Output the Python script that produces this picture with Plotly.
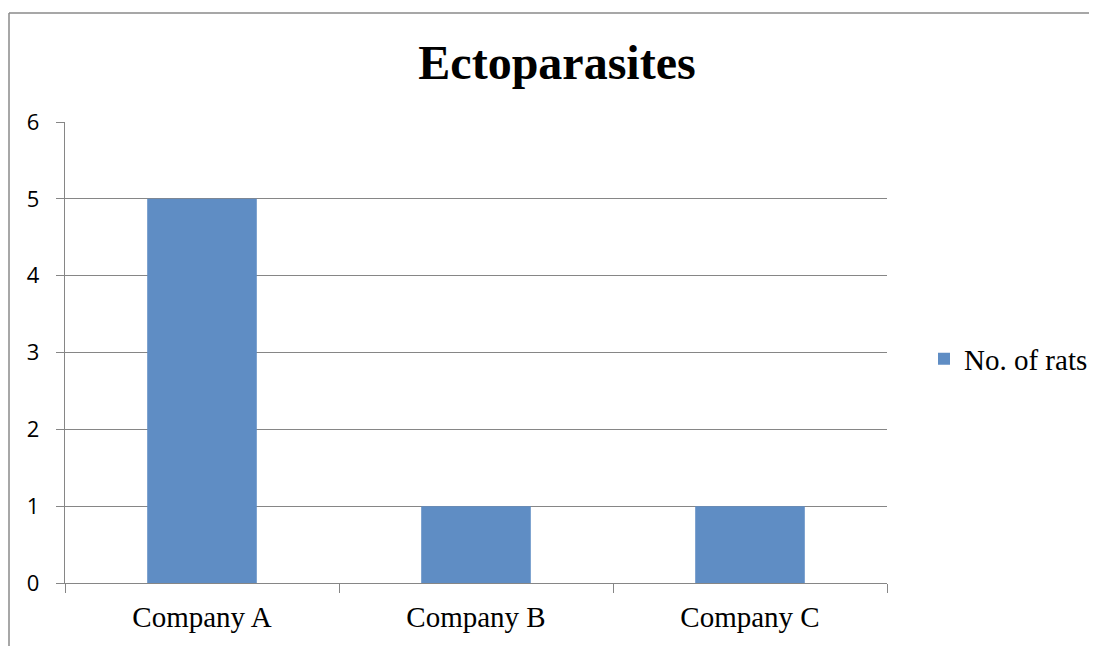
import plotly.graph_objects as go

categories = ["Company A", "Company B", "Company C"]
rats = [5, 1, 1]
series_name = "No. of rats"
title_text = "Ectoparasites"

OFF = 8  # page body margin offset
W, H = 1097 - OFF, 646 - OFF
L, T = 65 - OFF, 122 - OFF
R, B = W - (887 - OFF), H - (583 - OFF)
pw, ph = W - L - R, H - T - B

fig = go.Figure()
fig.add_trace(go.Bar(
    x=categories, y=rats, name=series_name,
    marker=dict(color="#5F8DC4", line=dict(width=0)),
    width=0.4, showlegend=True,
))

fig.update_layout(
    width=W, height=H,
    margin=dict(l=L, r=R, t=T, b=B, autoexpand=False),
    paper_bgcolor="white", plot_bgcolor="white",
    title=dict(text="<b>" + title_text + "</b>", x=(557 - OFF) / W, xref="container", xanchor="center",
               y=1 - (62 - OFF) / H, yref="container", yanchor="middle",
               font=dict(family="Liberation Serif", size=48, color="#000000")),
    showlegend=True,
    legend=dict(x=(924 - 65) / pw, xanchor="left", y=(583 - 359) / ph, yanchor="middle",
                font=dict(family="Liberation Serif", size=29, color="#000000"),
                itemwidth=30, bgcolor="rgba(0,0,0,0)"),
)
fig.update_xaxes(
    type="category", tickson="boundaries", ticks="outside", ticklen=9, tickcolor="#868686",
    tickwidth=1.3, showline=True, linecolor="#868686", linewidth=1.3, showgrid=False,
    tickfont=dict(family="Liberation Serif", size=29, color="#000000"),
    ticklabelstandoff=8,
)
fig.update_yaxes(
    range=[0, 6], dtick=1, ticks="outside", ticklen=8, tickcolor="#868686", tickwidth=1.3,
    showline=True, linecolor="#868686", linewidth=1.3,
    showgrid=True, gridcolor="#868686", gridwidth=1.3, zeroline=False,
    tickfont=dict(family="Open Sans", size=22, color="#000000"),
    ticklabelstandoff=12,
)
# outer chart border (top and left edges; right/bottom lie outside the view)
bx0, bx1 = (9 - 65) / pw, (1120 - 65) / pw
by0, by1 = (583 - 670) / ph, (583 - 13) / ph
border = dict(color="#8A8A8A", width=1.5)
fig.add_shape(type="line", xref="paper", yref="paper", x0=bx0, x1=bx1, y0=by1, y1=by1,
              line=border, layer="below")
fig.add_shape(type="line", xref="paper", yref="paper", x0=bx0, x1=bx0, y0=by0, y1=by1,
              line=border, layer="below")

fig.write_html("out.html")
